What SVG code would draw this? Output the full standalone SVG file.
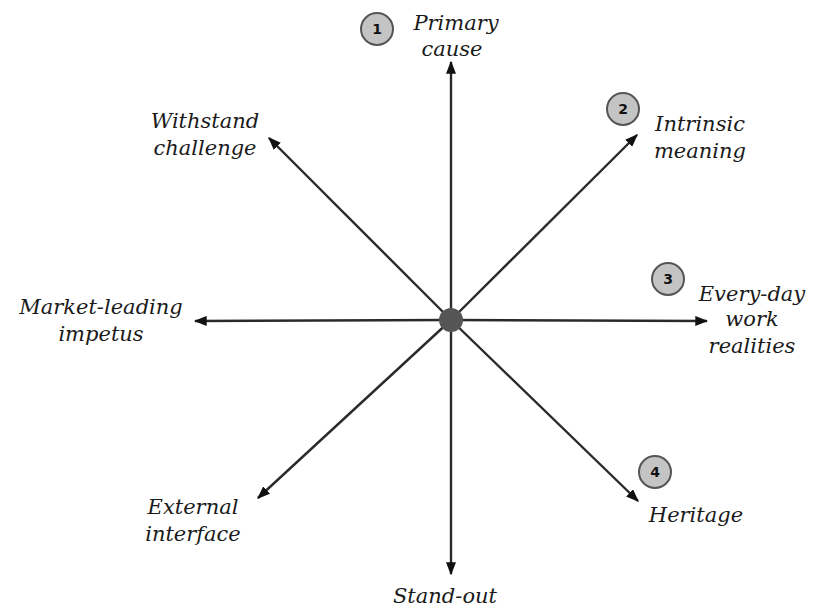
<svg xmlns="http://www.w3.org/2000/svg" width="818" height="612" viewBox="0 0 818 612">
<style>
.lbl{font-family:"DejaVu Serif","Liberation Serif",serif;font-style:italic;font-size:21px;fill:#1a1a1a;text-anchor:middle}
.ln{stroke:#2a2a2a;stroke-width:2.4;fill:none;marker-end:url(#ah)}
.num{fill:#c4c4c4;stroke:#555;stroke-width:2}
.nt{font-family:"DejaVu Sans","Liberation Sans",sans-serif;font-weight:bold;font-size:14px;fill:#111;text-anchor:middle}
</style>
<defs>
<marker id="ah" viewBox="0 0 10 10" refX="9" refY="5" markerWidth="13" markerHeight="10" orient="auto" markerUnits="userSpaceOnUse" preserveAspectRatio="none">
<path d="M0,0 L10,5 L0,10 z" fill="#111"/>
</marker>
</defs>
<rect width="818" height="612" fill="#fff"/>
<g id="connectors">
<line class="ln" x1="451" y1="320" x2="451" y2="62"/>
<line class="ln" x1="451" y1="320" x2="451" y2="574"/>
<line class="ln" x1="451" y1="320" x2="195" y2="321"/>
<line class="ln" x1="451" y1="320" x2="707" y2="321"/>
<line class="ln" x1="451" y1="320" x2="637" y2="135"/>
<line class="ln" x1="451" y1="320" x2="269" y2="138"/>
<line class="ln" x1="451" y1="320" x2="258" y2="498"/>
<line class="ln" x1="451" y1="320" x2="638" y2="501"/>
</g>
<g id="center"><circle cx="451" cy="320" r="12" fill="#555"/></g>
<g id="primary-cause">
<circle class="num" cx="377" cy="29" r="16"/><text class="nt" x="377" y="34">1</text>
<text class="lbl" x="456" y="30">Primary</text><text class="lbl" x="452" y="56">cause</text>
</g>
<g id="intrinsic-meaning">
<circle class="num" cx="623" cy="109" r="16"/><text class="nt" x="623" y="114">2</text>
<text class="lbl" x="700" y="131">Intrinsic</text><text class="lbl" x="700" y="158">meaning</text>
</g>
<g id="every-day">
<circle class="num" cx="668" cy="279" r="16"/><text class="nt" x="668" y="284">3</text>
<text class="lbl" x="752" y="301">Every-day</text><text class="lbl" x="752" y="326">work</text><text class="lbl" x="752" y="353">realities</text>
</g>
<g id="heritage">
<circle class="num" cx="655" cy="472" r="16"/><text class="nt" x="655" y="477">4</text>
<text class="lbl" x="696" y="522">Heritage</text>
</g>
<g id="withstand"><text class="lbl" x="205" y="128">Withstand</text><text class="lbl" x="205" y="155">challenge</text></g>
<g id="market"><text class="lbl" x="101" y="314">Market-leading</text><text class="lbl" x="101" y="341">impetus</text></g>
<g id="external"><text class="lbl" x="193" y="514">External</text><text class="lbl" x="193" y="541">interface</text></g>
<g id="standout"><text class="lbl" x="445" y="603">Stand-out</text></g>
</svg>
